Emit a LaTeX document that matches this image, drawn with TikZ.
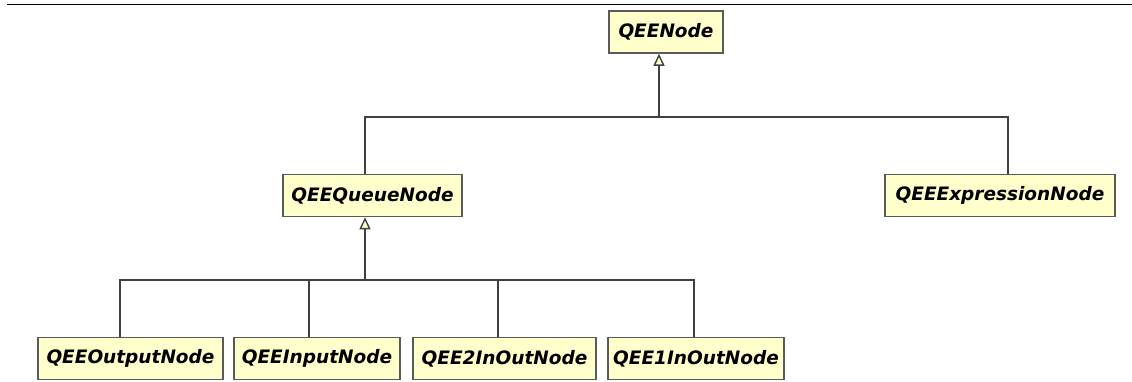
\documentclass[tikz,border=0pt]{standalone}
\usepackage{fontspec}
\setmainfont{DejaVu Sans}
\usetikzlibrary{arrows.meta}
\definecolor{classfill}{HTML}{FFFFCC}
\definecolor{classline}{HTML}{5A5A5A}
\definecolor{wire}{HTML}{404040}
\tikzset{
  classbox/.style={draw=classline, line width=1.5pt, fill=classfill,
    rectangle, inner sep=0pt, minimum height=42pt,
    font=\fontsize{18.5}{22}\selectfont\bfseries\itshape},
  wireline/.style={draw=wire, line width=2pt},
  inherit/.style={wireline, -{Triangle[open, width=11pt, length=12pt, line width=1.4pt, fill=classfill]}}
}
\begin{document}
\begin{tikzpicture}[x=1pt, y=-1pt]
  \useasboundingbox (0,0) rectangle (1132,381);
  \fill[white] (0,0) rectangle (1132,381);
  % frame rule along the top
  \coordinate (rl) at (7,4.5);
  \coordinate (rr) at (1132,4.5);
  \draw[black, line width=1.6pt] (rl) -- (rr);

  % classes
  \node[classbox, minimum width=114pt] (qee) at (666,32) {QEENode};
  \node[classbox, minimum width=179pt] (queue) at (372.5,195.5) {QEEQueueNode};
  \node[classbox, minimum width=230pt] (expr) at (1000,195.5) {QEEExpressionNode};
  \node[classbox, minimum width=185pt] (outn) at (130.5,358.5) {QEEOutputNode};
  \node[classbox, minimum width=166pt] (inn) at (317,358.5) {QEEInputNode};
  \node[classbox, minimum width=183pt] (two) at (504.5,358.5) {QEE2InOutNode};
  \node[classbox, minimum width=176pt] (one) at (696,358.5) {QEE1InOutNode};

  % junctions of the inheritance trees
  \coordinate (j1) at (659,116.5);
  \coordinate (j2) at (365,279.5);

  % subclasses of QEENode
  \draw[wireline] ([xshift=-7.5pt]queue.north) |- (j1);
  \draw[wireline] ([xshift=8pt]expr.north) |- (j1);
  \draw[inherit] (j1) -- ([xshift=-7pt]qee.south);

  % subclasses of QEEQueueNode
  \draw[wireline] ([xshift=-10.5pt]outn.north) |- (j2);
  \draw[wireline] ([xshift=-8pt]inn.north) |- (j2);
  \draw[wireline] ([xshift=-6.5pt]two.north) |- (j2);
  \draw[wireline] ([xshift=-2pt]one.north) |- (j2);
  \draw[inherit] (j2) -- ([xshift=-7.5pt]queue.south);
\end{tikzpicture}
\end{document}
